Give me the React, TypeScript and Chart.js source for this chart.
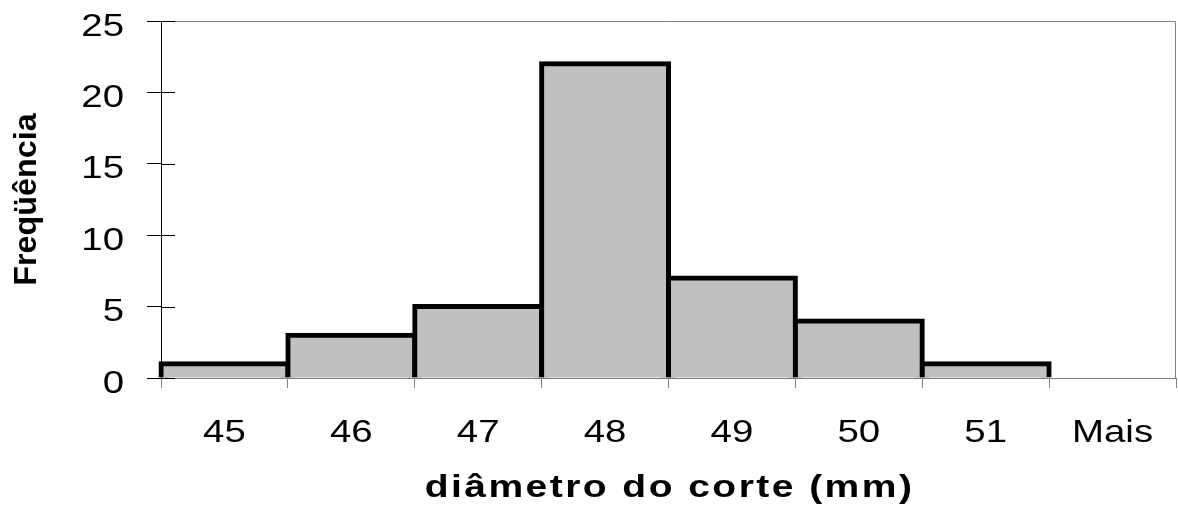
import React, { useEffect, useRef } from "react";
import { Chart, registerables } from "chart.js";

Chart.register(...registerables);

const categories = ["45", "46", "47", "48", "49", "50", "51", "Mais"];
const frequencies = [1, 3, 5, 22, 7, 4, 1, 0];
const yTicks = [0, 5, 10, 15, 20, 25];
const xTitle = "diâmetro do corte (mm)";
const yTitle = "Freqüência";

const FONT = '"Liberation Sans", Arial, sans-serif';
const SX = 1.2;

const framePlugin = {
  id: "frame",
  beforeDatasetsDraw(chart: any) {
    const { ctx, chartArea } = chart;
    const y = chart.scales.y;
    ctx.save();
    ctx.strokeStyle = "#808080";
    ctx.lineWidth = 1;
    ctx.beginPath();
    ctx.moveTo(chartArea.left, Math.round(chartArea.top) + 0.5);
    ctx.lineTo(Math.round(chartArea.right) - 0.5, Math.round(chartArea.top) + 0.5);
    ctx.lineTo(Math.round(chartArea.right) - 0.5, chartArea.bottom);
    ctx.stroke();
    // inner half of the crossing y tick marks
    ctx.strokeStyle = "#000";
    y.ticks.forEach((_t: any, i: number) => {
      const py = Math.round(y.getPixelForTick(i)) + 0.5;
      ctx.beginPath();
      ctx.moveTo(chartArea.left, py);
      ctx.lineTo(chartArea.left + 14, py);
      ctx.stroke();
    });
    ctx.restore();
  },
};

const textPlugin = {
  id: "texts",
  afterDraw(chart: any) {
    const { ctx, chartArea } = chart;
    const x = chart.scales.x;
    const y = chart.scales.y;
    ctx.save();
    ctx.fillStyle = "#000";
    ctx.font = `32px ${FONT}`;
    ctx.textBaseline = "alphabetic";
    // y tick labels
    ctx.textAlign = "right";
    y.ticks.forEach((t: any, i: number) => {
      const py = y.getPixelForTick(i);
      ctx.save();
      ctx.translate(chartArea.left - 37, py + 14.5);
      ctx.scale(SX, 1);
      ctx.fillText(String(t.value), 0, 0);
      ctx.restore();
    });
    // x tick labels
    ctx.textAlign = "center";
    categories.forEach((c, i) => {
      const px = x.getPixelForValue(i);
      ctx.save();
      ctx.translate(px, chartArea.bottom + 64);
      ctx.scale(SX, 1);
      ctx.fillText(c, 0, 0);
      ctx.restore();
    });
    // x title
    ctx.save();
    ctx.font = `bold 32px ${FONT}`;
    (ctx as any).letterSpacing = "2px";
    ctx.translate((chartArea.left + chartArea.right) / 2 + 1, chartArea.bottom + 119);
    ctx.scale(1.22, 1);
    ctx.textAlign = "center";
    ctx.fillText(xTitle, 0, 0);
    ctx.restore();
    // y title
    ctx.save();
    ctx.font = `bold 32px ${FONT}`;
    ctx.translate(36, (chartArea.top + chartArea.bottom) / 2);
    ctx.rotate(-Math.PI / 2);
    ctx.scale(1.01, 1);
    ctx.textAlign = "center";
    ctx.fillText(yTitle, 0, 0);
    ctx.restore();
    ctx.restore();
  },
};

export default function App() {
  const ref = useRef<HTMLCanvasElement | null>(null);

  useEffect(() => {
    document.body.style.margin = "0";
    const canvas = ref.current;
    if (!canvas) return;
    const chart = new Chart(canvas, {
      type: "bar",
      data: {
        labels: categories,
        datasets: [
          {
            data: frequencies,
            backgroundColor: "#C0C0C0",
            borderColor: "#000000",
            borderWidth: 5,
            borderSkipped: "bottom",
            inflateAmount: (c: any) => (c.parsed && c.parsed.y > 0 ? 2.5 : 0),
            barPercentage: 1,
            categoryPercentage: 1,
            clip: { left: 6, top: 6, right: 6, bottom: 0 },
          } as any,
        ],
      },
      options: {
        animation: false,
        responsive: false,
        devicePixelRatio: 1,
        layout: { padding: { left: 0, right: 2, top: 21, bottom: 0 } },
        plugins: {
          legend: { display: false },
          tooltip: { enabled: false },
          title: { display: false },
        },
        scales: {
          x: {
            type: "category",
            offset: true,
            ticks: { display: false },
            grid: {
              offset: true,
              drawOnChartArea: false,
              drawTicks: true,
              tickLength: 10,
              color: "#808080",
              lineWidth: 1,
            },
            border: { display: true, color: "#808080", width: 1 },
            afterFit: (s: any) => {
              s.height = 129;
            },
          },
          y: {
            min: 0,
            max: 25,
            afterBuildTicks: (s: any) => {
              s.ticks = yTicks.map((v) => ({ value: v }));
            },
            ticks: { display: false },
            grid: {
              drawOnChartArea: false,
              drawTicks: true,
              tickLength: 14,
              color: "#000000",
              lineWidth: 1,
            },
            border: { display: true, color: "#000000", width: 1 },
            afterFit: (s: any) => {
              s.width = 161;
            },
          },
        },
      },
      plugins: [framePlugin, textPlugin],
    });
    return () => chart.destroy();
  }, []);

  return (
    <div style={{ position: "absolute", left: 0, top: 0, width: 1178, height: 507, background: "#fff" }}>
      <canvas ref={ref} width={1178} height={507} />
    </div>
  );
}
